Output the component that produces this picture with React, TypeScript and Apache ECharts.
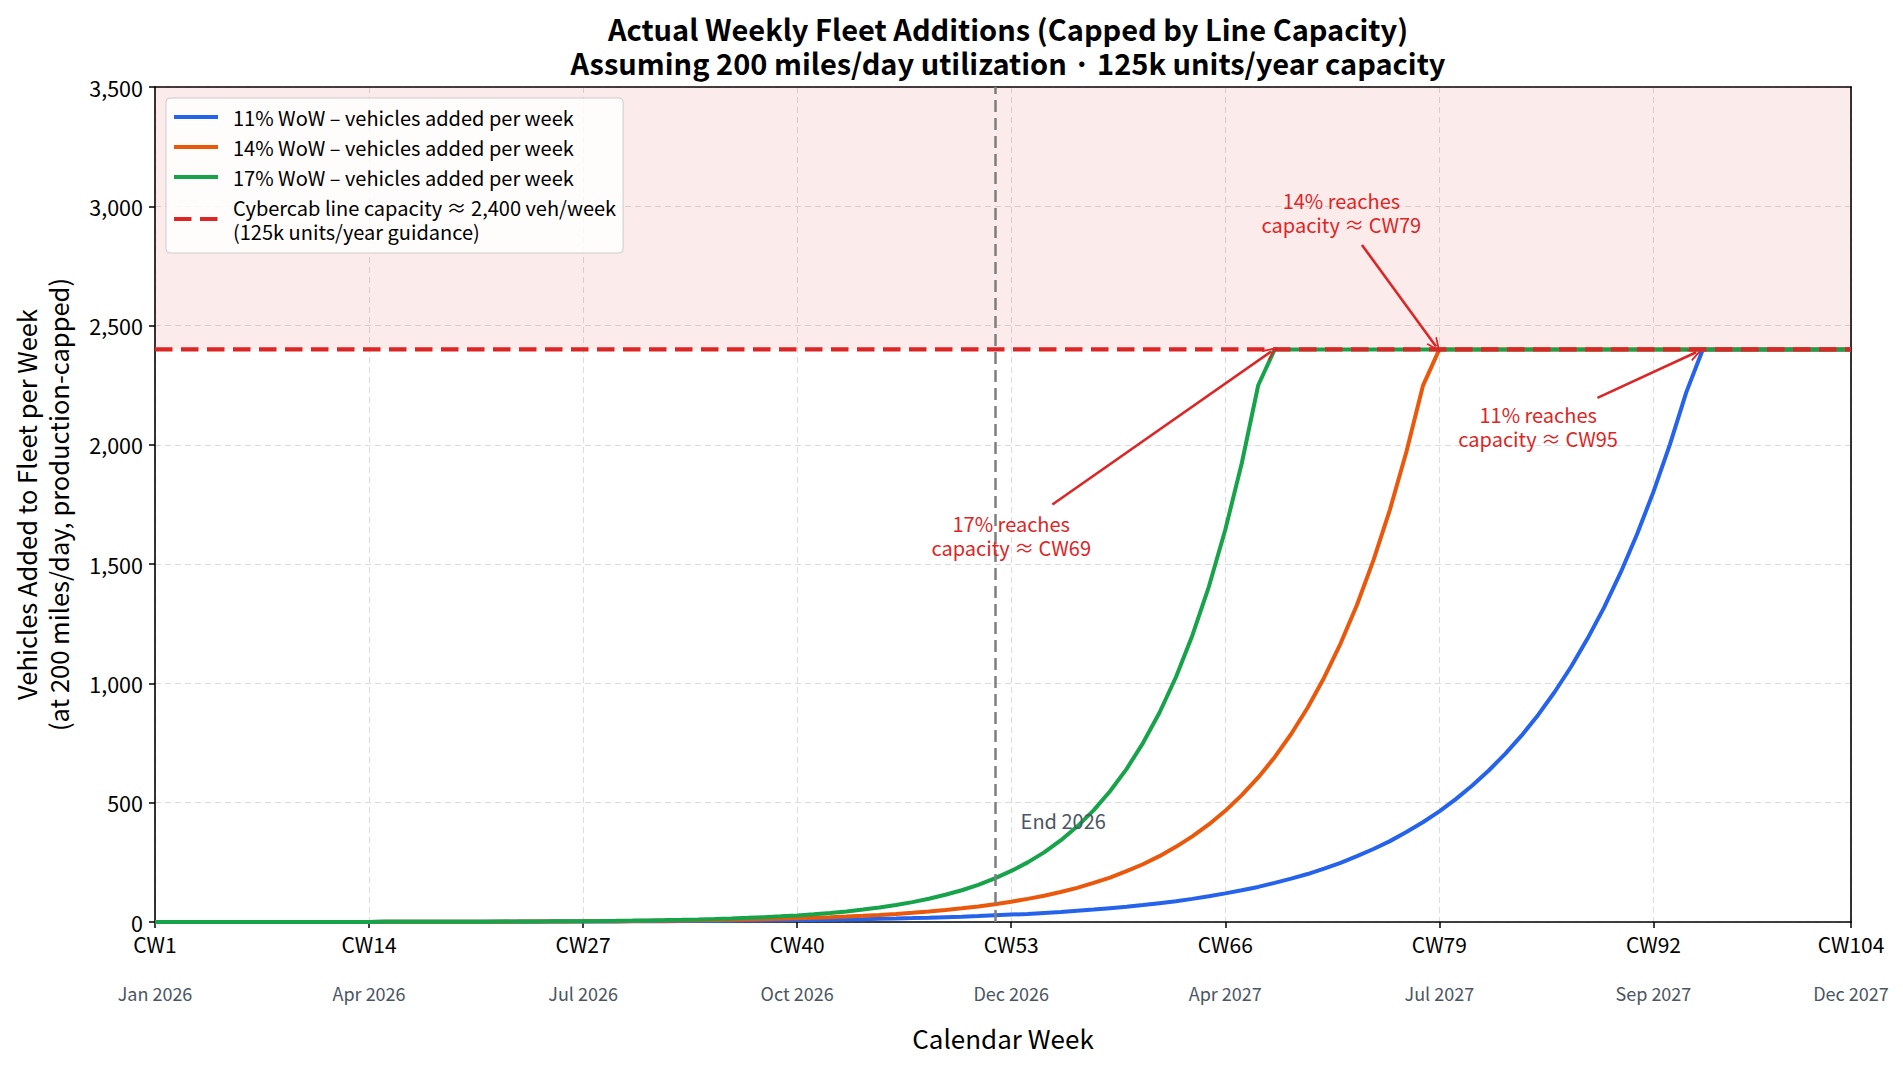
import React, { useEffect, useRef } from 'react';
import * as echarts from 'echarts';

// ---- data ----
const weeks: number[] = Array.from({ length: 104 }, (_, i) => i + 1);

const growth11: number[] = [
  0.14, 0.15, 0.17, 0.18, 0.21, 0.23, 0.25, 0.28, 0.31, 0.34,
  0.38, 0.43, 0.47, 0.52, 0.58, 0.64, 0.72, 0.79, 0.88, 0.98,
  1.09, 1.21, 1.34, 1.5, 1.65, 1.8, 2.0, 2.3, 2.5, 2.8,
  3.1, 3.4, 3.8, 4.2, 4.7, 5.2, 5.8, 6.4, 7.1, 7.9,
  8.8, 9.7, 10.8, 12.0, 13.3, 14.8, 16.4, 18.2, 20.3, 22.5,
  25, 28, 31, 34, 38, 42, 47, 52, 58, 64,
  71, 79, 87, 97, 108, 120, 133, 147, 164, 182,
  201, 224, 248, 276, 306, 339, 377, 418, 464, 515,
  572, 635, 705, 782, 868, 964, 1070, 1188, 1318, 1463,
  1624, 1803, 2001, 2221, 2400, 2400, 2400, 2400, 2400, 2400,
  2400, 2400, 2400, 2400,
];

const growth14: number[] = [
  0.09, 0.11, 0.12, 0.14, 0.16, 0.18, 0.2, 0.23, 0.27, 0.3,
  0.35, 0.39, 0.45, 0.51, 0.58, 0.67, 0.76, 0.87, 0.99, 1.12,
  1.28, 1.46, 1.67, 1.9, 2.16, 2.47, 2.81, 3.21, 3.66, 4.17,
  4.75, 5.42, 6.18, 7.04, 8.03, 9.15, 10.4, 11.9, 13.6, 15.5,
  17.6, 20.1, 22.9, 26.1, 29.8, 33.9, 38.7, 44.1, 50.3, 57.3,
  65.4, 74.5, 85, 97, 110, 126, 143, 164, 186, 213,
  242, 276, 315, 359, 409, 466, 532, 606, 691, 788,
  898, 1024, 1167, 1330, 1517, 1729, 1971, 2247, 2400, 2400,
  2400, 2400, 2400, 2400, 2400, 2400, 2400, 2400, 2400, 2400,
  2400, 2400, 2400, 2400, 2400, 2400, 2400, 2400, 2400, 2400,
  2400, 2400, 2400, 2400,
];

const growth17: number[] = [
  0.06, 0.07, 0.09, 0.1, 0.12, 0.14, 0.16, 0.18, 0.22, 0.25,
  0.29, 0.34, 0.4, 0.47, 0.55, 0.64, 0.75, 0.88, 1.03, 1.2,
  1.41, 1.65, 1.93, 2.25, 2.64, 3.08, 3.61, 4.22, 4.94, 5.78,
  6.76, 7.91, 9.25, 10.8, 12.7, 14.8, 17.3, 20.3, 23.7, 27.7,
  32.5, 38.0, 44.4, 52.0, 60.8, 71.1, 83.2, 97.4, 114, 133,
  156, 183, 214, 250, 292, 342, 400, 468, 548, 641,
  750, 877, 1026, 1201, 1405, 1644, 1923, 2250, 2400, 2400,
  2400, 2400, 2400, 2400, 2400, 2400, 2400, 2400, 2400, 2400,
  2400, 2400, 2400, 2400, 2400, 2400, 2400, 2400, 2400, 2400,
  2400, 2400, 2400, 2400, 2400, 2400, 2400, 2400, 2400, 2400,
  2400, 2400, 2400, 2400,
];

const capacityPerWeek = 2400;
const yMax = 3500;
const tickWeeks: number[] = [1, 14, 27, 40, 53, 66, 79, 92, 104];
const tickDates: string[] = [
  'Jan 2026', 'Apr 2026', 'Jul 2026', 'Oct 2026', 'Dec 2026',
  'Apr 2027', 'Jul 2027', 'Sep 2027', 'Dec 2027',
];
const endOf2026Week = 52;

const seriesNames: string[] = [
  '11% WoW – vehicles added per week',
  '14% WoW – vehicles added per week',
  '17% WoW – vehicles added per week',
  'Cybercab line capacity ≈ 2,400 veh/week\n(125k units/year guidance)',
];

// annotation texts and anchors (data units)
const noteTexts: string[] = [
  '17% reaches\ncapacity ≈ CW69',
  '14% reaches\ncapacity ≈ CW79',
  '11% reaches\ncapacity ≈ CW95',
];
const noteAnchors: number[][] = [[53, 1622], [73.05, 2975], [85, 2075]];
const arrowFrom: number[][] = [[55.5, 1750], [74.3, 2838], [88.6, 2197]];
const arrowTo: number[][] = [[68.8, 2392], [78.8, 2412], [94.6, 2388]];
const endLabelAnchor: number[] = [53.57, 425];

// ---- styles ----
const FONT = '"Noto Sans CJK JP", "Source Han Sans", "Noto Sans", sans-serif';
const BLUE = '#2563eb';
const ORANGE = '#ea580c';
const GREEN = '#16a34a';
const RED = '#dc2626';
const GRAY = '#4b5563';
const OPEN_ARROW = 'path://M0,14 L6,0 L12,14 L10.2,14 L6,4.2 L1.8,14 Z';

const toPairs = (vals: number[]) => weeks.map((w, i) => [w, vals[i]]);

const option: any = {
  animation: false,
  textStyle: { fontFamily: FONT },
  title: {
    text: 'Actual Weekly Fleet Additions (Capped by Line Capacity)\nAssuming 200 miles/day utilization · 125k units/year capacity',
    left: 1003,
    top: 6,
    textAlign: 'center',
    textStyle: { fontFamily: FONT, fontSize: 29, fontWeight: 'bold', color: '#000', lineHeight: 34 },
  },
  legend: {
    orient: 'vertical',
    left: 166,
    top: 98,
    padding: [7, 7, 10, 6],
    itemGap: 6,
    itemWidth: 44,
    itemHeight: 14,
    data: seriesNames,
    backgroundColor: 'rgba(255,255,255,0.85)',
    borderColor: '#cccccc',
    borderWidth: 1,
    borderRadius: 4,
    itemStyle: { opacity: 0 },
    lineStyle: { width: 4 },
    textStyle: { fontFamily: FONT, fontSize: 20, color: '#000', lineHeight: 24, padding: [0, 0, 0, 10] },
  },
  grid: {
    left: 155,
    right: 52,
    top: 87,
    bottom: 148,
    containLabel: false,
    outerBoundsMode: 'none',
  },
  xAxis: [
    {
      type: 'value',
      min: 1,
      max: 104,
      interval: 13,
      name: 'Calendar Week',
      nameLocation: 'middle',
      nameGap: 102,
      nameTextStyle: { fontFamily: FONT, fontSize: 26, color: '#000' },
      axisLine: { show: true, onZero: false, lineStyle: { color: '#000', width: 1.6 } },
      axisTick: { show: true, length: 6, customValues: tickWeeks, lineStyle: { color: '#000', width: 1.5 } },
      axisLabel: {
        customValues: tickWeeks,
        margin: 10,
        formatter: (v: number) => {
          const i = tickWeeks.indexOf(Math.round(v));
          return `{a|CW${Math.round(v)}}\n{s| }\n{b|${i >= 0 ? tickDates[i] : ''}}`;
        },
        rich: {
          a: { fontFamily: FONT, fontSize: 21, color: '#000', lineHeight: 24 },
          s: { fontSize: 10, lineHeight: 25 },
          b: { fontFamily: FONT, fontSize: 18, color: GRAY, lineHeight: 24 },
        },
      },
      splitLine: { show: true, lineStyle: { color: '#dcdcdc', width: 1, type: [6, 4] } },
    },
    {
      type: 'value',
      min: 1,
      max: 104,
      position: 'top',
      axisLine: { show: true, onZero: false, lineStyle: { color: '#000', width: 1.6 } },
      axisTick: { show: false },
      axisLabel: { show: false },
      splitLine: { show: false },
    },
  ],
  yAxis: [
    {
      type: 'value',
      min: 0,
      max: yMax,
      interval: 500,
      name: 'Vehicles Added to Fleet per Week\n(at 200 miles/day, production-capped)',
      nameLocation: 'middle',
      nameRotate: 90,
      nameGap: 82,
      nameTextStyle: { fontFamily: FONT, fontSize: 25.5, color: '#000', lineHeight: 31.5 },
      axisLine: { show: true, lineStyle: { color: '#000', width: 1.6 } },
      axisTick: { show: true, length: 6, lineStyle: { color: '#000', width: 1.5 } },
      axisLabel: {
        margin: 12,
        fontFamily: FONT,
        fontSize: 21.5,
        color: '#000',
        formatter: (v: number) => v.toLocaleString('en-US'),
      },
      splitLine: { show: true, lineStyle: { color: '#dcdcdc', width: 1, type: [6, 4] } },
    },
    {
      type: 'value',
      min: 0,
      max: yMax,
      position: 'right',
      axisLine: { show: true, onZero: false, lineStyle: { color: '#000', width: 1.6 } },
      axisTick: { show: false },
      axisLabel: { show: false },
      splitLine: { show: false },
    },
  ],
  series: [
    {
      name: seriesNames[0],
      type: 'line',
      data: toPairs(growth11),
      symbol: 'none',
      z: 3,
      lineStyle: { color: BLUE, width: 4 },
      itemStyle: { color: BLUE },
      markLine: {
        silent: true,
        symbol: 'none',
        label: { show: false },
        lineStyle: { color: '#7f7f7f', width: 2.5, type: [12, 6] },
        data: [{ xAxis: endOf2026Week }],
      },
      markPoint: {
        silent: true,
        symbol: 'circle',
        symbolSize: 0,
        data: [
          {
            name: 'End 2026',
            coord: endLabelAnchor,
            label: {
              show: true,
              position: 'inside',
              align: 'left',
              verticalAlign: 'middle',
              formatter: '{b}',
              fontFamily: FONT,
              fontSize: 20,
              color: GRAY,
            },
          },
        ],
      },
    },
    {
      name: seriesNames[1],
      type: 'line',
      data: toPairs(growth14),
      symbol: 'none',
      z: 3,
      lineStyle: { color: ORANGE, width: 4 },
      itemStyle: { color: ORANGE },
    },
    {
      name: seriesNames[2],
      type: 'line',
      data: toPairs(growth17),
      symbol: 'none',
      z: 3,
      lineStyle: { color: GREEN, width: 4 },
      itemStyle: { color: GREEN },
    },
    {
      name: seriesNames[3],
      type: 'line',
      data: [[1, capacityPerWeek], [104, capacityPerWeek]],
      symbol: 'none',
      z: 4,
      lineStyle: { color: RED, width: 4.2, type: [17.5, 8.5] },
      itemStyle: { color: RED },
      markArea: {
        silent: true,
        itemStyle: { color: 'rgba(220,38,38,0.09)' },
        data: [[{ yAxis: capacityPerWeek }, { yAxis: yMax }]],
      },
      markLine: {
        silent: true,
        symbol: ['none', OPEN_ARROW],
        symbolSize: [13, 15],
        label: { show: false },
        itemStyle: { color: RED },
        lineStyle: { color: RED, width: 2.6, type: 'solid' },
        data: arrowFrom.map((f, i) => [{ coord: f }, { coord: arrowTo[i] }]),
      },
      markPoint: {
        silent: true,
        symbol: 'circle',
        symbolSize: 0,
        label: {
          show: true,
          position: 'inside',
          formatter: '{b}',
          fontFamily: FONT,
          fontSize: 20,
          lineHeight: 24,
          color: RED,
          align: 'center',
          verticalAlign: 'middle',
        },
        data: noteTexts.map((t, i) => ({ name: t, coord: noteAnchors[i] })),
      },
    },
  ],
};

export default function App() {
  const ref = useRef<HTMLDivElement>(null);
  useEffect(() => {
    document.body.style.margin = '0';
    const chart = echarts.init(ref.current!, null, { renderer: 'svg' });
    chart.setOption(option);
    return () => chart.dispose();
  }, []);
  return <div ref={ref} style={{ width: 1903, height: 1070 }} />;
}
